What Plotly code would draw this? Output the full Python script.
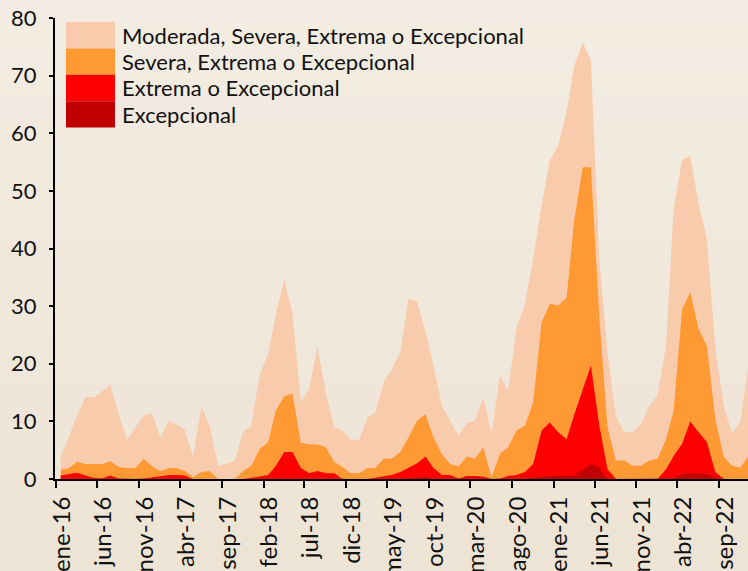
import pandas as pd
import plotly.graph_objects as go

# Monthly series, ene-2016 .. dic-2022
meses = pd.date_range("2016-01-01", periods=84, freq="MS")

moderada_o_mas = [
    4.0, 7.4, 11.1, 14.2, 14.2, 15.2, 16.4, 11.2, 6.8, 9.0, 11.0, 11.4,
    7.2, 10.1, 9.5, 8.5, 3.9, 12.6, 9.3, 2.3, 2.6, 3.2, 8.1, 9.3,
    18.2, 21.7, 28.6, 34.6, 28.8, 13.3, 15.6, 22.9, 14.8, 9.0, 8.4, 6.8,
    6.8, 10.7, 11.5, 16.8, 19.1, 22.0, 31.3, 30.8, 25.7, 19.7, 12.7, 10.1,
    7.5, 9.8, 10.1, 14.2, 8.0, 17.9, 15.3, 26.3, 30.4, 38.2, 47.4, 55.3,
    57.9, 63.7, 71.7, 75.7, 72.8, 38.0, 22.0, 10.8, 8.1, 8.1, 9.5, 12.7,
    14.5, 23.1, 46.9, 55.4, 56.1, 47.7, 41.7, 22.6, 12.7, 8.0, 9.8, 20.0,
]
severa_o_mas = [
    1.6, 1.9, 3.0, 2.6, 2.6, 2.6, 3.1, 2.1, 1.9, 1.9, 3.5, 2.2,
    1.4, 1.9, 1.9, 1.4, 0.3, 1.2, 1.4, 0.0, 0.0, 0.0, 1.4, 2.3,
    5.2, 6.4, 11.9, 14.4, 14.8, 6.3, 6.0, 6.0, 5.5, 3.0, 2.1, 1.0,
    1.0, 1.9, 1.9, 3.5, 3.5, 4.7, 7.2, 10.1, 11.3, 7.2, 4.3, 2.6,
    2.2, 3.9, 3.5, 5.5, 0.3, 4.4, 5.5, 8.4, 9.3, 13.3, 27.2, 30.4,
    30.1, 31.5, 45.0, 54.1, 54.1, 28.0, 9.0, 3.2, 3.2, 2.3, 2.3, 3.2,
    3.5, 6.9, 11.9, 29.5, 32.4, 26.0, 23.1, 10.4, 3.8, 2.3, 2.0, 4.0,
]
extrema_o_mas = [
    0.6, 0.8, 1.1, 0.6, 0.2, 0.1, 0.6, 0.1, 0.0, 0.0, 0.1, 0.3,
    0.6, 0.7, 0.7, 0.6, 0.0, 0.0, 0.0, 0.0, 0.0, 0.0, 0.0, 0.2,
    0.5, 0.7, 2.3, 4.7, 4.7, 1.9, 1.0, 1.4, 1.0, 1.0, 0.0, 0.0,
    0.0, 0.0, 0.2, 0.5, 0.7, 1.2, 2.0, 2.7, 3.9, 1.9, 0.7, 0.7,
    0.1, 0.5, 0.5, 0.4, 0.0, 0.1, 0.5, 0.7, 1.2, 2.6, 8.4, 9.8,
    8.1, 6.9, 11.2, 15.4, 19.7, 9.3, 1.7, 0.0, 0.0, 0.0, 0.0, 0.0,
    0.0, 1.7, 4.0, 6.1, 10.0, 8.1, 6.4, 1.2, 0.0, 0.0, 0.0, 0.0,
]
excepcional = [
    0.0, 0.0, 0.0, 0.0, 0.0, 0.0, 0.0, 0.0, 0.0, 0.0, 0.0, 0.0,
    0.0, 0.0, 0.0, 0.0, 0.0, 0.0, 0.0, 0.0, 0.0, 0.0, 0.0, 0.0,
    0.0, 0.0, 0.0, 0.0, 0.0, 0.0, 0.0, 0.0, 0.0, 0.0, 0.0, 0.0,
    0.0, 0.0, 0.0, 0.0, 0.0, 0.0, 0.0, 0.3, 0.4, 0.0, 0.0, 0.0,
    0.0, 0.0, 0.0, 0.0, 0.0, 0.0, 0.0, 0.0, 0.0, 0.2, 0.4, 0.5,
    0.5, 0.5, 0.6, 1.6, 2.6, 2.0, 0.0, 0.0, 0.0, 0.0, 0.0, 0.0,
    0.0, 0.0, 0.1, 0.9, 1.0, 1.0, 0.9, 0.1, 0.0, 0.0, 0.0, 0.0,
]

series = [
    ("Moderada, Severa, Extrema o Excepcional", moderada_o_mas, "#F8CBAD"),
    ("Severa, Extrema o Excepcional", severa_o_mas, "#FF9933"),
    ("Extrema o Excepcional", extrema_o_mas, "#FF0000"),
    ("Excepcional", excepcional, "#C00000"),
]

tick_fechas = pd.date_range("2016-01-01", periods=17, freq="5MS")
tick_labels = ["ene-16", "jun-16", "nov-16", "abr-17", "sep-17", "feb-18",
               "jul-18", "dic-18", "may-19", "oct-19", "mar-20", "ago-20",
               "ene-21", "jun-21", "nov-21", "abr-22", "sep-22"]

FONT = "Lato"
BG_TOP = (243, 236, 226)
BG_BOT = (237, 228, 213)

# points sit a bit after the month boundary, as in the original
x = meses + pd.Timedelta(days=17)

fig = go.Figure()
for nombre, valores, color in series:
    fig.add_trace(go.Scatter(
        x=x, y=valores, name=nombre, mode="lines",
        line=dict(width=0, color=color), fill="tozeroy", fillcolor=color,
        showlegend=False, hoverinfo="skip",
    ))

# plot area in pixels: x 55..748, y 18..479
def px(v):
    return (v - 55) / 693.0

def py(v):
    return (479 - v) / 461.0

# soft vertical gradient behind everything (bands)
n_bands = 24
for b in range(n_bands):
    t = (b + 0.5) / n_bands
    c = tuple(round(BG_TOP[i] + (BG_BOT[i] - BG_TOP[i]) * t) for i in range(3))
    y0 = b * 571 / n_bands
    fig.add_shape(type="rect", xref="paper", yref="paper",
                  x0=px(0), x1=px(748), y0=py(y0 + 571 / n_bands + 0.5), y1=py(y0),
                  fillcolor="rgb(%d,%d,%d)" % c, line=dict(width=0), layer="below")

# hand-built legend with big swatches
row_h = 26.4
for k, (nombre, _, color) in enumerate(series):
    top = 22 + k * row_h
    fig.add_shape(type="rect", xref="paper", yref="paper",
                  x0=px(66), x1=px(115), y0=py(top + row_h), y1=py(top),
                  fillcolor=color, line=dict(width=0), layer="above")
    fig.add_annotation(xref="paper", yref="paper", x=px(120), y=py(top + row_h / 2),
                       text=nombre, showarrow=False, xanchor="left", yanchor="middle",
                       font=dict(family=FONT, size=22, color="#111111"))

fig.update_xaxes(
    type="date", range=["2015-12-28", "2022-12-16"], automargin=False,
    tickvals=tick_fechas, ticktext=tick_labels, tickangle=-90,
    ticks="outside", ticklen=7, tickwidth=2, tickcolor="black",
    showline=True, linewidth=2, linecolor="black", showgrid=False, zeroline=False,
    tickfont=dict(family=FONT, size=24, color="#111111"),
    ticklabelshift=6, ticklabelstandoff=-1,
)
fig.update_yaxes(
    range=[0, 80], tickvals=list(range(0, 81, 10)), automargin=False,
    ticks="outside", ticklen=4, tickwidth=2, tickcolor="black",
    showline=True, linewidth=2, linecolor="black", showgrid=False, zeroline=False,
    tickfont=dict(family=FONT, size=22, color="#111111"),
    ticklabelstandoff=8,
)
fig.update_layout(
    width=748, height=571,
    margin=dict(l=55, r=0, t=18, b=92),
    paper_bgcolor="rgb(%d,%d,%d)" % BG_BOT, plot_bgcolor="rgba(0,0,0,0)",
    showlegend=False,
)

# page body has a default 8px margin; drop it so the figure fills the window
fig.write_html("out.html", config={"displayModeBar": False},
               post_script="document.body.style.margin='0';"
                           "document.body.style.background='rgb(%d,%d,%d)';" % BG_BOT)
